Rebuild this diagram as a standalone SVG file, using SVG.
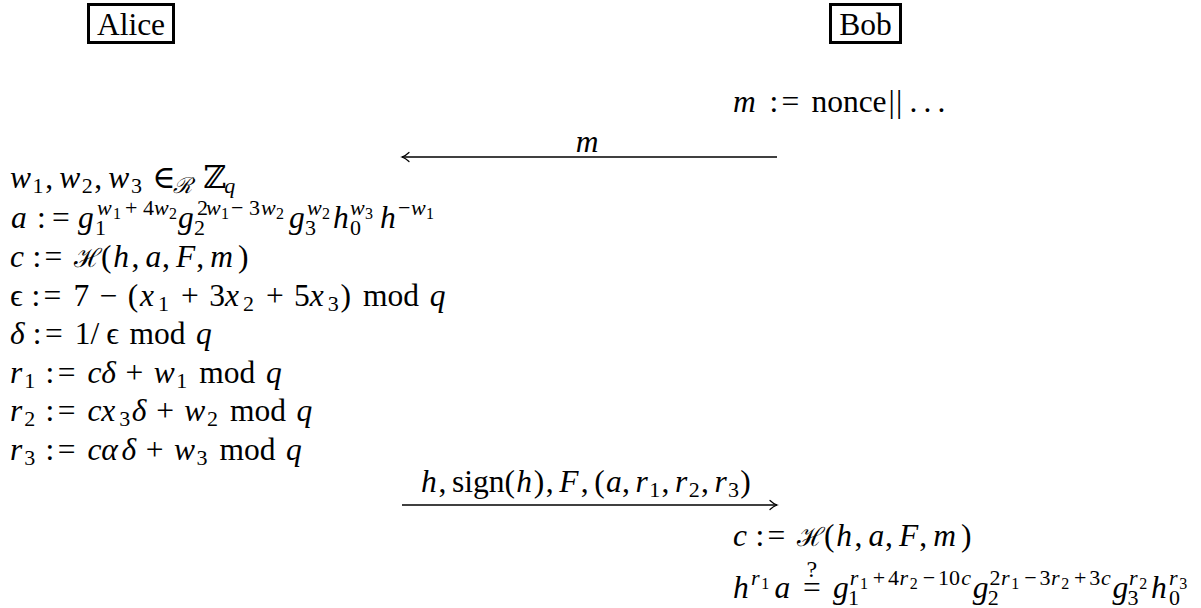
<svg xmlns="http://www.w3.org/2000/svg" width="1201" height="608" viewBox="0 0 1201 608">
<style>
text { font-family: "Liberation Serif", "DejaVu Serif", serif; font-size: 31.5px; fill: #000; }
.i { font-style: italic; }
.r { font-style: normal; }
.s { font-size: 22px; }
.ss { font-size: 16px; }
.cal { font-size: 26px; font-style: normal; }
.q { font-size: 24px; font-style: normal; }
.box { fill: #fff; stroke: #000; stroke-width: 3; }
.arr { stroke: #000; stroke-width: 1.3; fill: none; }
.head { stroke: #000; stroke-width: 1.2; fill: none; stroke-linecap: round; }
</style>
<defs>
<marker id="tip" markerUnits="userSpaceOnUse" orient="auto" refX="0" refY="0" markerWidth="10" markerHeight="10" overflow="visible">
<path class="head" d="M -7 -4.5 C -4 -1.6 -1.5 -0.5 0 0 C -1.5 0.5 -4 1.6 -7 4.5"/>
</marker>
</defs>

<g id="alice">
<rect class="box" x="88.5" y="4.5" width="85" height="38"/>
<text x="131" y="35" text-anchor="middle">Alice</text>
</g>

<g id="bob">
<rect class="box" x="830.5" y="4.5" width="70" height="38"/>
<text x="865.5" y="35" text-anchor="middle">Bob</text>
</g>

<g id="bob-init">
<text class="i" y="112"><tspan x="733">m</tspan><tspan class="r" x="769.4">:</tspan><tspan class="r" x="781.6">=</tspan><tspan class="r" x="811.4">nonce</tspan><tspan class="r" x="888.5">|</tspan><tspan class="r" x="896">|</tspan><tspan class="r" x="909.4">.</tspan><tspan class="r" x="923.4">.</tspan><tspan class="r" x="937.4">.</tspan></text>
</g>

<g id="alice-steps">
<text class="i" y="188"><tspan x="10">w</tspan><tspan class="s r" x="32.6" y="193">1</tspan><tspan class="r" x="45.2" y="188">,</tspan><tspan x="59.2">w</tspan><tspan class="s r" x="81.7" y="193">2</tspan><tspan class="r" x="94.3" y="188">,</tspan><tspan x="108.3">w</tspan><tspan class="s r" x="130.9" y="193">3</tspan><tspan class="r" x="152.2" y="188">∈</tspan><tspan class="s" x="173.2" y="193">ℛ</tspan><tspan class="r" x="203.3" y="188">ℤ</tspan><tspan class="s" x="224.3" y="193">q</tspan></text>

<text class="i" y="228"><tspan x="11">a</tspan><tspan class="r" x="37">:</tspan><tspan class="r" x="52">=</tspan><tspan x="78">g</tspan><tspan class="s r" x="95" y="235">1</tspan><tspan class="s" x="97" y="215">w</tspan><tspan class="ss r" x="113" y="219">1</tspan><tspan class="s r" x="125" y="215">+</tspan><tspan class="s r" x="143">4</tspan><tspan class="s" x="154">w</tspan><tspan class="ss r" x="169" y="219">2</tspan><tspan x="178" y="228">g</tspan><tspan class="s r" x="194" y="235">2</tspan><tspan class="s r" x="197" y="215">2</tspan><tspan class="s" x="206">w</tspan><tspan class="ss r" x="221" y="219">1</tspan><tspan class="s r" x="231" y="215">−</tspan><tspan class="s r" x="249">3</tspan><tspan class="s" x="261">w</tspan><tspan class="ss r" x="276" y="219">2</tspan><tspan x="289" y="228">g</tspan><tspan class="s r" x="305" y="235">3</tspan><tspan class="s" x="307" y="215">w</tspan><tspan class="ss r" x="322" y="219">2</tspan><tspan x="333" y="228">h</tspan><tspan class="s r" x="350" y="235">0</tspan><tspan class="s" x="350" y="215">w</tspan><tspan class="ss r" x="365" y="219">3</tspan><tspan x="380" y="228">h</tspan><tspan class="s r" x="398" y="215">−</tspan><tspan class="s" x="411">w</tspan><tspan class="ss r" x="426" y="219">1</tspan></text>

<text class="i" y="267"><tspan x="10">c</tspan><tspan class="r" x="32.4">:</tspan><tspan class="r" x="44.5">=</tspan><tspan class="cal" x="74.4">ℋ</tspan><tspan class="r" x="101">(</tspan><tspan x="113.3">h</tspan><tspan class="r" x="131.4">,</tspan><tspan x="145.4">a</tspan><tspan class="r" x="162.1">,</tspan><tspan x="176.1">F</tspan><tspan class="r" x="196.3">,</tspan><tspan x="210.3">m</tspan><tspan class="r" x="238">)</tspan></text>

<text class="i" y="306"><tspan class="r" x="10">ϵ</tspan><tspan class="r" x="31.5">:</tspan><tspan class="r" x="43.6">=</tspan><tspan class="r" x="73.6">7</tspan><tspan class="r" x="99.7">−</tspan><tspan class="r" x="127.8">(</tspan><tspan x="140.1">x</tspan><tspan class="s r" x="158.1" y="311">1</tspan><tspan class="r" x="181.1" y="306">+</tspan><tspan class="r" x="209.2">3</tspan><tspan x="224.9">x</tspan><tspan class="s r" x="242.9" y="311">2</tspan><tspan class="r" x="265.9" y="306">+</tspan><tspan class="r" x="294">5</tspan><tspan x="309.8">x</tspan><tspan class="s r" x="327.8" y="311">3</tspan><tspan class="r" x="340.4" y="306">)</tspan><tspan class="r" x="363">mod</tspan><tspan x="429.7">q</tspan></text>

<text class="i" y="344"><tspan x="10">δ</tspan><tspan class="r" x="32.8">:</tspan><tspan class="r" x="44.9">=</tspan><tspan class="r" x="74.8">1</tspan><tspan class="r" x="90.5">/</tspan><tspan class="r" x="106.3">ϵ</tspan><tspan class="r" x="129.5">mod</tspan><tspan x="196.1">q</tspan></text>

<text class="i" y="383"><tspan x="10">r</tspan><tspan class="s r" x="24.2" y="388">1</tspan><tspan class="r" x="45.6" y="383">:</tspan><tspan class="r" x="57.7">=</tspan><tspan x="87.6">c</tspan><tspan x="101.2">δ</tspan><tspan class="r" x="125.6">+</tspan><tspan x="153.7">w</tspan><tspan class="s r" x="176.3" y="388">1</tspan><tspan class="r" x="199.3" y="383">mod</tspan><tspan x="265.9">q</tspan></text>

<text class="i" y="421"><tspan x="10">r</tspan><tspan class="s r" x="24.2" y="426">2</tspan><tspan class="r" x="45.6" y="421">:</tspan><tspan class="r" x="57.7">=</tspan><tspan x="87.6">c</tspan><tspan x="101.2">x</tspan><tspan class="s r" x="119.2" y="426">3</tspan><tspan x="131.8" y="421">δ</tspan><tspan class="r" x="156.2">+</tspan><tspan x="184.3">w</tspan><tspan class="s r" x="206.9" y="426">2</tspan><tspan class="r" x="229.9" y="421">mod</tspan><tspan x="296.5">q</tspan></text>

<text class="i" y="460"><tspan x="10">r</tspan><tspan class="s r" x="24.2" y="465">3</tspan><tspan class="r" x="45.6" y="460">:</tspan><tspan class="r" x="57.7">=</tspan><tspan x="87.6">c</tspan><tspan x="101.2">α</tspan><tspan x="121.4">δ</tspan><tspan class="r" x="145.8">+</tspan><tspan x="173.9">w</tspan><tspan class="s r" x="196.5" y="465">3</tspan><tspan class="r" x="219.5" y="460">mod</tspan><tspan x="286.1">q</tspan></text>
</g>

<g id="connectors">
<line class="arr" x1="777" y1="157" x2="402" y2="157" marker-end="url(#tip)"/>
<text class="i" x="575.7" y="152">m</text>
<line class="arr" x1="402" y1="505" x2="777" y2="505" marker-end="url(#tip)"/>
<text class="i" y="492"><tspan x="421">h</tspan><tspan class="r" x="438.5">,</tspan><tspan class="r" x="452">sign</tspan><tspan class="r" x="504.5">(</tspan><tspan x="516.3">h</tspan><tspan class="r" x="533.8">)</tspan><tspan class="r" x="545.7">,</tspan><tspan x="559.2">F</tspan><tspan class="r" x="580.7">,</tspan><tspan class="r" x="594.2">(</tspan><tspan x="606.1">a</tspan><tspan class="r" x="622.1">,</tspan><tspan x="635.6">r</tspan><tspan class="s r" x="649.3" y="497">1</tspan><tspan class="r" x="661.5" y="492">,</tspan><tspan x="675">r</tspan><tspan class="s r" x="688.7" y="497">2</tspan><tspan class="r" x="700.9" y="492">,</tspan><tspan x="714.4">r</tspan><tspan class="s r" x="728.1" y="497">3</tspan><tspan class="r" x="740.2" y="492">)</tspan></text>
</g>

<g id="bob-verify">
<text class="i" y="546"><tspan x="733">c</tspan><tspan class="r" x="755.4">:</tspan><tspan class="r" x="767.5">=</tspan><tspan class="cal" x="797.4">ℋ</tspan><tspan class="r" x="824">(</tspan><tspan x="836.2">h</tspan><tspan class="r" x="854.4">,</tspan><tspan x="868.4">a</tspan><tspan class="r" x="885">,</tspan><tspan x="899.1">F</tspan><tspan class="r" x="919.3">,</tspan><tspan x="933.3">m</tspan><tspan class="r" x="961">)</tspan></text>

<text class="i" y="598"><tspan x="733">h</tspan><tspan class="s" x="751.1" y="585">r</tspan><tspan class="ss r" x="761.3" y="589">1</tspan><tspan x="774.4" y="598">a</tspan><tspan class="q" x="806.5" y="577">?</tspan><tspan class="r" x="803.1" y="598">=</tspan><tspan x="833.1">g</tspan><tspan class="s r" x="848.1" y="605">1</tspan><tspan class="s" x="849.7" y="585">r</tspan><tspan class="ss r" x="859.9" y="589">1</tspan><tspan class="s r" x="872.7" y="585">+</tspan><tspan class="s r" x="887.9">4</tspan><tspan class="s" x="899.5">r</tspan><tspan class="ss r" x="909.7" y="589">2</tspan><tspan class="s r" x="922.7" y="585">−</tspan><tspan class="s r" x="938">10</tspan><tspan class="s" x="961.2">c</tspan><tspan x="972.8" y="598">g</tspan><tspan class="s r" x="987.8" y="605">2</tspan><tspan class="s r" x="989.4" y="585">2</tspan><tspan class="s" x="1001">r</tspan><tspan class="ss r" x="1011.2" y="589">1</tspan><tspan class="s r" x="1024.2" y="585">−</tspan><tspan class="s r" x="1039.5">3</tspan><tspan class="s" x="1051.1">r</tspan><tspan class="ss r" x="1061.3" y="589">2</tspan><tspan class="s r" x="1074.1" y="585">+</tspan><tspan class="s r" x="1089.3">3</tspan><tspan class="s" x="1100.9">c</tspan><tspan x="1112.5" y="598">g</tspan><tspan class="s r" x="1127.5" y="605">3</tspan><tspan class="s" x="1129.1" y="585">r</tspan><tspan class="ss r" x="1139.3" y="589">2</tspan><tspan x="1150.9" y="598">h</tspan><tspan class="s r" x="1169" y="605">0</tspan><tspan class="s" x="1169" y="585">r</tspan><tspan class="ss r" x="1179.2" y="589">3</tspan></text>
</g>
</svg>
